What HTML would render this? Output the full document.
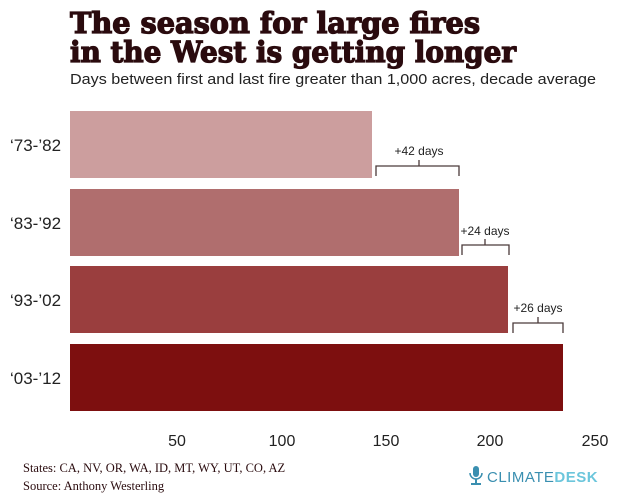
<!DOCTYPE html>
<html><head><meta charset="utf-8"><style>body{margin:0;background:#fff}svg{display:block}</style></head><body>
<svg width="630" height="503" viewBox="0 0 630 503" xmlns="http://www.w3.org/2000/svg">
<g font-family="'DejaVu Serif','Liberation Serif',serif" font-weight="bold" fill="#2a0b0e" stroke="#2a0b0e" stroke-width="1.3" font-size="29">
<text x="70" y="33" textLength="410" lengthAdjust="spacingAndGlyphs">The season for large fires</text>
<text x="70" y="62" textLength="446" lengthAdjust="spacingAndGlyphs">in the West is getting longer</text>
</g>
<text x="70" y="84" font-family="'Liberation Sans',sans-serif" font-size="15" fill="#222" textLength="526" lengthAdjust="spacingAndGlyphs">Days between first and last fire greater than 1,000 acres, decade average</text>
<rect x="70" y="111" width="302" height="67" fill="#cc9e9e"/>
<rect x="70" y="189" width="389" height="67" fill="#b06e6e"/>
<rect x="70" y="266" width="438" height="67" fill="#9a3e3e"/>
<rect x="70" y="344" width="493" height="67" fill="#7d0f0f"/>
<g font-family="'Liberation Sans',sans-serif" font-size="17" fill="#222">
<text x="10" y="151">‘73-’82</text>
<text x="10" y="229">‘83-’92</text>
<text x="10" y="306">‘93-’02</text>
<text x="10" y="384">‘03-’12</text>
</g>
<g fill="none" stroke="#4a3a3a" stroke-width="1.3">
<path d="M376 176V166H459V176M419 166V160"/>
<path d="M462 255V245H509V255M485 245V239"/>
<path d="M513 333V323H563V333M538 323V317"/>
</g>
<g font-family="'Liberation Sans',sans-serif" font-size="12" fill="#222" text-anchor="middle">
<text x="419" y="155">+42 days</text>
<text x="485" y="235">+24 days</text>
<text x="538" y="312">+26 days</text>
</g>
<g font-family="'Liberation Sans',sans-serif" font-size="16" fill="#222" text-anchor="middle">
<text x="177" y="446">50</text>
<text x="282" y="446">100</text>
<text x="386" y="446">150</text>
<text x="490" y="446">200</text>
<text x="595" y="446">250</text>
</g>
<g font-family="'Liberation Serif',serif" font-size="12.5" fill="#2a0b0e">
<text x="23" y="472">States: CA, NV, OR, WA, ID, MT, WY, UT, CO, AZ</text>
<text x="23" y="490">Source: Anthony Westerling</text>
</g>
<g fill="#3a8fb0">
<rect x="473" y="466" width="6" height="11" rx="3"/>
<path d="M470 473a6 6 0 0 0 12 0" fill="none" stroke="#3a8fb0" stroke-width="1.5"/>
<rect x="475" y="479" width="2" height="4"/>
<rect x="471" y="483" width="10" height="2"/>
</g>
<text x="487" y="482" font-family="'Liberation Sans',sans-serif" font-size="15" fill="#3a8fb0" letter-spacing="0.5">CLIMATE<tspan fill="#6cc6dc" font-weight="bold">DESK</tspan></text>
</svg>
</body></html>
